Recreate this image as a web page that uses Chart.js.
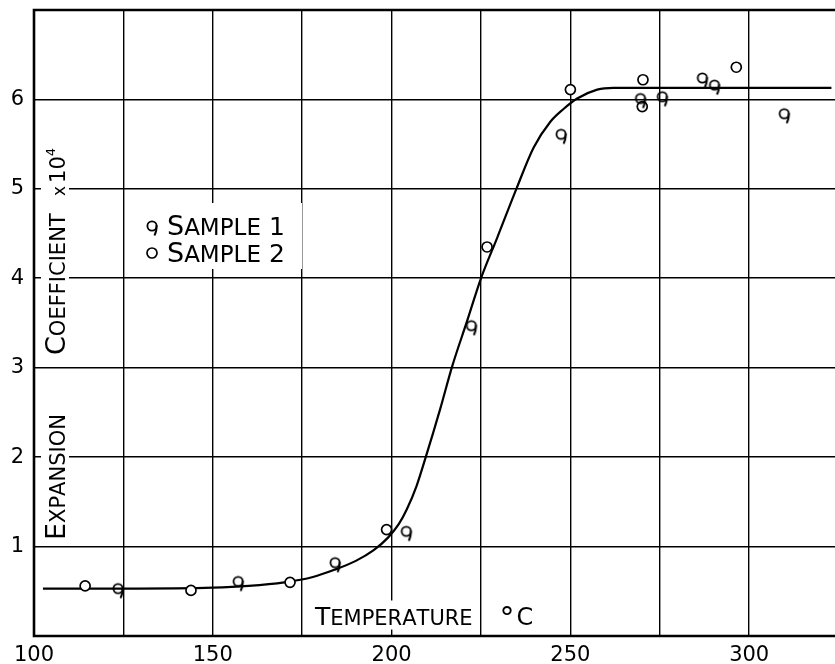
<!DOCTYPE html>
<html>
<head>
<meta charset="utf-8">
<script src="https://cdn.jsdelivr.net/npm/chart.js@4.4.1/dist/chart.umd.min.js"></script>
<style>
  html, body { margin: 0; padding: 0; background: #fff; }
  #wrap { width: 835px; height: 664px; position: relative; }
</style>
</head>
<body>
<div id="wrap"><canvas id="expChart"></canvas></div>
<script>
// Expansion coefficient vs temperature
const curveX = [102.5, 125, 150, 160, 170, 178, 184, 190, 195, 199, 202, 204.3, 207, 209.4, 213.6, 216.9, 221.1, 225, 229.5, 234.9, 239.7, 244.4, 248, 251.9, 257.5, 262, 280, 300, 323];
const curveY = [0.53, 0.53, 0.54, 0.56, 0.60, 0.66, 0.74, 0.84, 0.96, 1.10, 1.25, 1.42, 1.68, 1.98, 2.54, 3.01, 3.52, 4.00, 4.45, 5.00, 5.46, 5.75, 5.89, 6.01, 6.11, 6.13, 6.13, 6.13, 6.13];

const sample1X = [123.5, 157.1, 184.2, 204.1, 222.3, 247.4, 269.6, 275.7, 286.9, 290.3, 309.8];
const sample1Y = [0.53, 0.61, 0.82, 1.17, 3.47, 5.61, 6.01, 6.03, 6.24, 6.16, 5.84];

const sample2X = [114.3, 143.9, 171.6, 198.6, 226.7, 250.0, 270.3, 270.1, 296.4];
const sample2Y = [0.56, 0.51, 0.60, 1.19, 4.35, 6.11, 6.22, 5.92, 6.36];

const xLabelled = [100, 150, 200, 250, 300];
const yLabelled = [1, 2, 3, 4, 5, 6];

const FONT = '"DejaVu Sans"';

function pts(xs, ys) { return xs.map((x, i) => ({ x: x, y: ys[i] })); }

// the "9" mark used for sample 1
function makeNine() {
    const c = document.createElement('canvas');
    c.width = 22; c.height = 22;
    const g = c.getContext('2d');
    g.strokeStyle = '#000';
    g.lineWidth = 1.8;
    g.beginPath(); g.arc(11, 11, 4.6, 0, Math.PI * 2); g.stroke();
    g.beginPath(); g.moveTo(15.6, 10); g.quadraticCurveTo(16, 16, 13.4, 20.5); g.stroke();
    return c;
}
const nine = makeNine();

// small caps: first letter and digits big
function caps(word, big, small) {
    return [...word].map((ch, i) => ({ t: ch, size: (i === 0 || /[0-9]/.test(ch)) ? big : small }));
}
function runWidth(ctx, parts) {
    let w = 0;
    parts.forEach(p => { ctx.font = p.size + 'px ' + FONT; w += ctx.measureText(p.t).width + (p.gap || 0); });
    return w;
}
function drawRun(ctx, parts, x, y, pad) {
    const w = runWidth(ctx, parts);
    ctx.fillStyle = '#fff';
    ctx.fillRect(x - pad, y - 22 - pad / 2, w + pad * 2, 24 + pad);
    ctx.fillStyle = '#000';
    ctx.textBaseline = 'alphabetic';
    ctx.textAlign = 'left';
    parts.forEach(p => {
        ctx.font = p.size + 'px ' + FONT;
        ctx.fillText(p.t, x, y - (p.rise || 0));
        x += ctx.measureText(p.t).width + (p.gap || 0);
    });
    return x;
}

const textPlugin = {
    id: 'plateText',
    beforeDatasetsDraw(chart) {
        const ctx = chart.ctx, a = chart.chartArea;
        ctx.save();

        // vertical axis title, reads bottom to top
        const pieces = [
            { at: 540, parts: caps('EXPANSION', 27, 21) },
            { at: 355, parts: caps('COEFFICIENT', 27, 21) },
            { at: 196, parts: [{ t: 'x', size: 17, gap: 3 }, { t: '10', size: 21 }, { t: '4', size: 13, rise: 10 }] }
        ];
        pieces.forEach(pc => {
            ctx.save();
            ctx.translate(a.left + 31, pc.at);
            ctx.rotate(-Math.PI / 2);
            drawRun(ctx, pc.parts, 0, 0, 4);
            ctx.restore();
        });

        // horizontal axis title inside the frame
        const tx = drawRun(ctx, caps('TEMPERATURE', 25, 21), 315, a.bottom - 11, 5);
        drawRun(ctx, [{ t: '°', size: 30, gap: 2, rise: -3 }, { t: 'C', size: 24 }], tx + 27, a.bottom - 11, 5);

        // key
        const rows = [
            { mark: 'nine', label: 'SAMPLE 1', y: 235 },
            { mark: 'circle', label: 'SAMPLE 2', y: 262 }
        ];
        ctx.fillStyle = '#fff';
        ctx.fillRect(140, 203, 162, 66);
        rows.forEach(r => {
            const words = r.label.split(' ');
            let x = drawRun(ctx, caps(words[0], 27, 23), 167, r.y, 0);
            drawRun(ctx, caps(words[1], 25, 25), x + 8, r.y, 0);
            if (r.mark === 'nine') {
                ctx.drawImage(nine, 152 - 11, r.y - 9 - 11);
            } else {
                ctx.strokeStyle = '#000';
                ctx.lineWidth = 1.7;
                ctx.beginPath(); ctx.arc(152, r.y - 9, 5, 0, Math.PI * 2); ctx.stroke();
            }
        });
        ctx.restore();
    },
    afterDraw(chart) {
        const ctx = chart.ctx, a = chart.chartArea;
        ctx.save();
        ctx.strokeStyle = '#000';
        ctx.lineWidth = 2.6;
        ctx.beginPath();
        ctx.moveTo(chart.width, a.top);
        ctx.lineTo(a.left, a.top);
        ctx.lineTo(a.left, a.bottom);
        ctx.lineTo(chart.width, a.bottom);
        ctx.stroke();
        ctx.restore();
    }
};

document.addEventListener('DOMContentLoaded', function () {
    const ctx = document.getElementById('expChart').getContext('2d');
    new Chart(ctx, {
        type: 'scatter',
        data: {
            datasets: [{
                label: 'Curve',
                data: pts(curveX, curveY),
                showLine: true,
                borderColor: '#000',
                borderWidth: 2.2,
                pointRadius: 0,
                cubicInterpolationMode: 'monotone',
                order: 3
            }, {
                label: 'Sample 1',
                data: pts(sample1X, sample1Y),
                pointStyle: nine,
                pointRadius: 6,
                order: 1
            }, {
                label: 'Sample 2',
                data: pts(sample2X, sample2Y),
                pointStyle: 'circle',
                pointRadius: 5,
                borderColor: '#000',
                borderWidth: 1.7,
                backgroundColor: '#fff',
                order: 2
            }]
        },
        options: {
            responsive: true,
            maintainAspectRatio: false,
            animation: false,
            layout: { autoPadding: false, padding: { top: 10, left: 0, right: 0, bottom: 0 } },
            scales: {
                x: {
                    type: 'linear',
                    min: 100,
                    max: 324,
                    border: { display: false },
                    grid: { color: '#000', lineWidth: 1.4, drawTicks: false },
                    ticks: {
                        stepSize: 25,
                        padding: 7,
                        color: '#000',
                        font: { family: 'DejaVu Sans', size: 21 },
                        maxRotation: 0,
                        autoSkip: false,
                        callback: v => xLabelled.includes(v) ? String(v) : ''
                    },
                    afterBuildTicks: s => { s.ticks = s.ticks.filter(t => t.value % 25 === 0 && t.value <= 324); },
                    afterFit: s => { s.height = 28; s.paddingLeft = 0; s.paddingRight = 0; }
                },
                y: {
                    min: 0,
                    max: 7,
                    border: { display: false },
                    grid: { color: '#000', lineWidth: 1.6, drawTicks: false },
                    ticks: {
                        stepSize: 1,
                        padding: 10,
                        color: '#000',
                        font: { family: 'DejaVu Sans', size: 21 },
                        callback: v => yLabelled.includes(v) ? String(v) : ''
                    },
                    afterFit: s => { s.width = 34; s.paddingTop = 0; s.paddingBottom = 0; }
                }
            },
            plugins: {
                legend: { display: false },
                tooltip: { enabled: false }
            }
        },
        plugins: [textPlugin]
    });
});
</script>
</body>
</html>
